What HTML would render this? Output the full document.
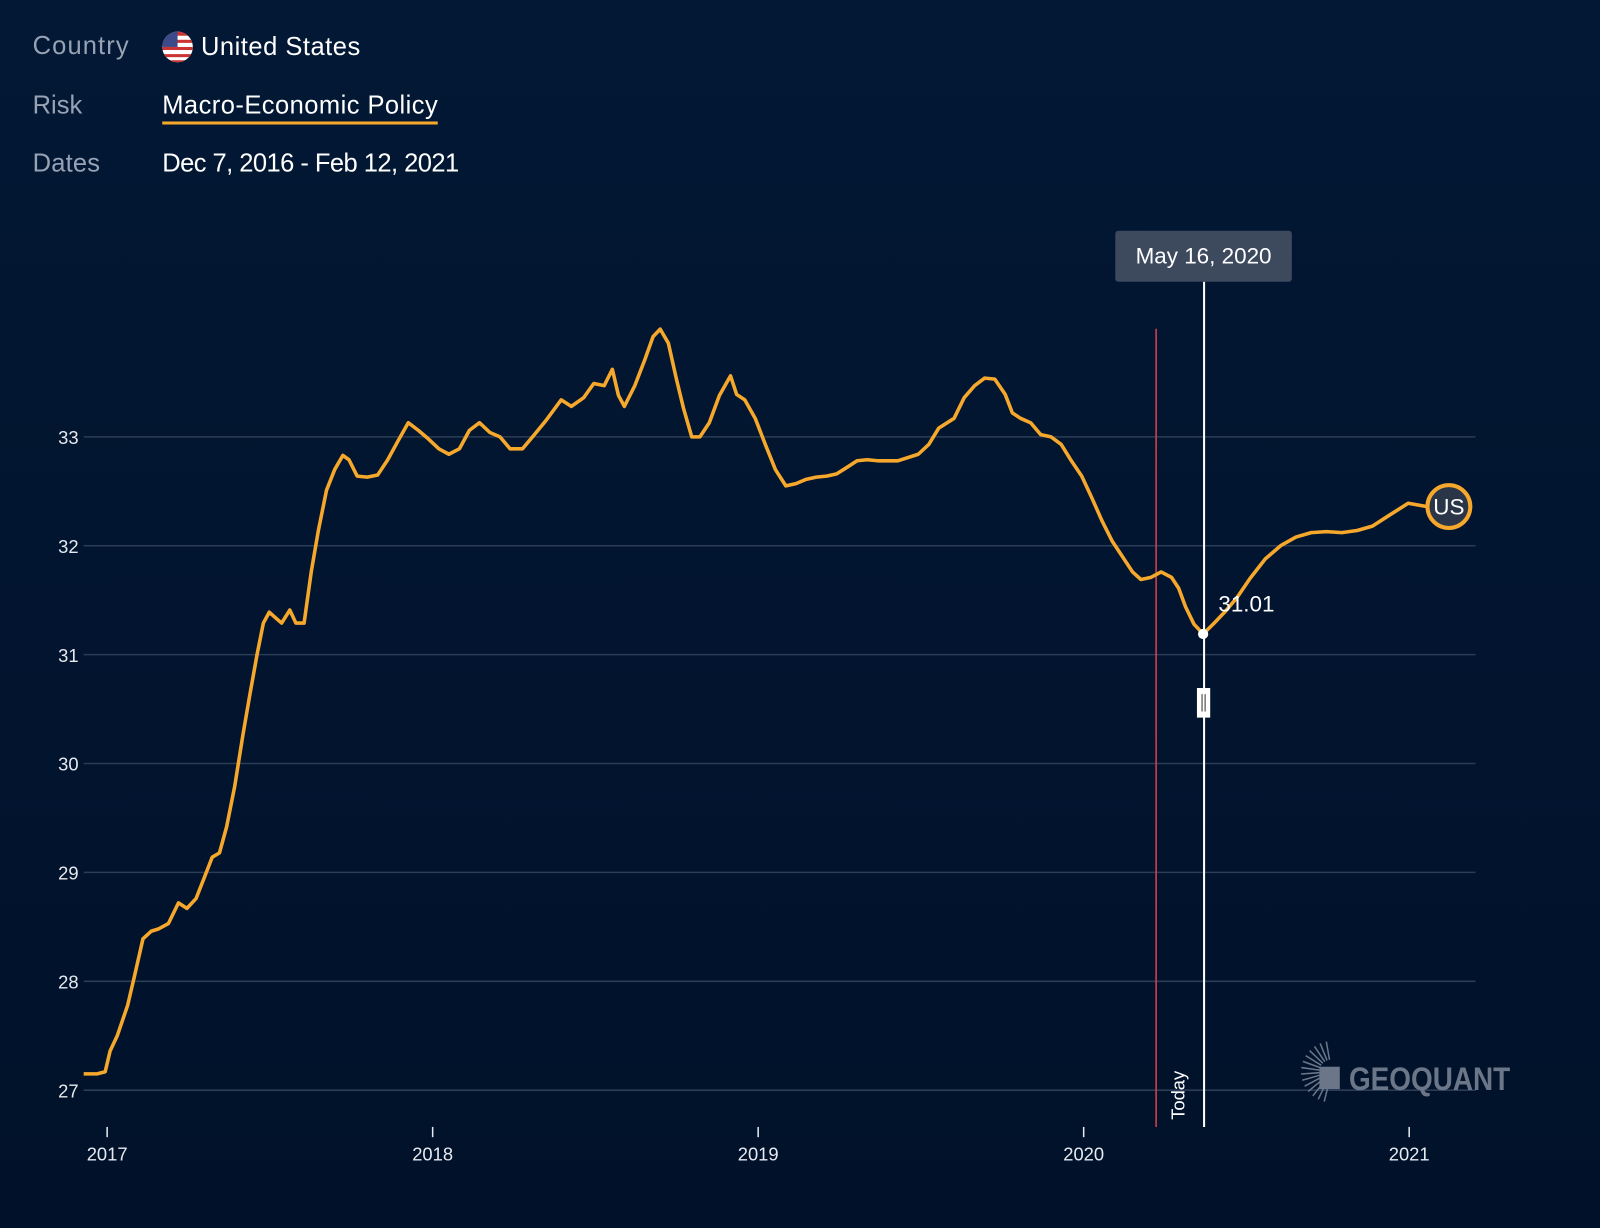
<!DOCTYPE html>
<html><head><meta charset="utf-8"><style>
html,body{margin:0;padding:0;background:#011631;}
svg{display:block;font-family:"Liberation Sans",sans-serif;}
</style></head><body>
<svg width="1600" height="1228" viewBox="0 0 1568 1203" preserveAspectRatio="none" xmlns="http://www.w3.org/2000/svg">
<defs><linearGradient id="bg" x1="0" y1="0" x2="0" y2="1"><stop offset="0" stop-color="#021834"/><stop offset="1" stop-color="#01112a"/></linearGradient></defs>
<rect width="1568" height="1203" fill="url(#bg)"/>
<g font-size="25">
<text x="32" y="53" fill="#97a2b4" textLength="94">Country</text>
<g>
<circle cx="174" cy="46" r="15" fill="#fff"/>
<clipPath id="fc"><circle cx="174" cy="46" r="15"/></clipPath>
<g clip-path="url(#fc)"><rect x="159" y="31" width="30" height="4" fill="#c33"/><rect x="159" y="39" width="30" height="3" fill="#c33"/><rect x="159" y="46" width="30" height="3" fill="#c33"/><rect x="159" y="53" width="30" height="3" fill="#c33"/><rect x="159" y="59" width="30" height="3" fill="#c33"/><rect x="159" y="31" width="15" height="15" fill="#3c4a8a"/></g>
</g>
<text x="197" y="54" fill="#fff" textLength="156">United States</text>
<text x="32" y="111" fill="#97a2b4">Risk</text>
<text x="159" y="111" fill="#fff" textLength="270">Macro-Economic Policy</text>
<rect x="159" y="119" width="270" height="3" fill="#f6a82c"/>
<text x="32" y="168" fill="#97a2b4" textLength="66">Dates</text>
<text x="159" y="168" fill="#fff" textLength="291">Dec 7, 2016 - Feb 12, 2021</text>
</g>
<g id="grid"></g><g id="xaxis"></g>
<g>
<g stroke="#6b7688" stroke-width="1.5" id="rays"></g>
<rect x="1293" y="1045" width="20" height="22" fill="#6b7688"/>
<text x="1322" y="1068" fill="#6b7688" font-size="32" font-weight="bold" textLength="158" lengthAdjust="spacingAndGlyphs">GEOQUANT</text>
</g>
<line x1="1133" y1="322" x2="1133" y2="1104" stroke="#d9434a" stroke-width="1.5"/>
<text transform="translate(1161,1097) rotate(-90)" fill="#fff" font-size="18">Today</text>
<path id="series" fill="none" stroke="#f6a82c" stroke-width="3.5" stroke-linejoin="round"/>
<line x1="1180" y1="276" x2="1180" y2="1104" stroke="#fff" stroke-width="2"/>
<rect x="1093" y="226" width="173" height="50" rx="3" fill="#3d4a5e"/>
<text x="1179.5" y="258" text-anchor="middle" fill="#fff" font-size="22">May 16, 2020</text>
<circle id="hoverpt" r="5" fill="#fff"/>
<text x="1194" y="599" fill="#fff" font-size="22">31.01</text>
<g><rect x="1173" y="674" width="13" height="29" fill="#fff"/><line x1="1178" y1="680" x2="1178" y2="697" stroke="#333"/><line x1="1181" y1="680" x2="1181" y2="697" stroke="#333"/></g>
<g id="endmark"></g>
</svg>
<script>
const yTicks=[27,28,29,30,31,32,33];
const xTicks=[2017,2018,2019,2020,2021];
const dates=[2016.928,2016.969,2016.994,2017.009,2017.031,2017.063,2017.085,2017.110,2017.135,2017.157,2017.188,2017.219,2017.245,2017.273,2017.298,2017.323,2017.345,2017.367,2017.392,2017.417,2017.439,2017.461,2017.480,2017.498,2017.517,2017.536,2017.561,2017.580,2017.605,2017.627,2017.649,2017.674,2017.699,2017.724,2017.743,2017.768,2017.799,2017.831,2017.862,2017.893,2017.925,2017.956,2017.987,2018.019,2018.050,2018.082,2018.113,2018.144,2018.176,2018.207,2018.238,2018.276,2018.307,2018.348,2018.395,2018.426,2018.464,2018.495,2018.527,2018.552,2018.571,2018.589,2018.621,2018.652,2018.677,2018.699,2018.724,2018.749,2018.771,2018.796,2018.821,2018.850,2018.881,2018.915,2018.934,2018.959,2018.991,2019.022,2019.053,2019.085,2019.116,2019.147,2019.179,2019.210,2019.241,2019.273,2019.304,2019.335,2019.367,2019.429,2019.492,2019.524,2019.555,2019.602,2019.633,2019.665,2019.696,2019.727,2019.759,2019.781,2019.806,2019.837,2019.868,2019.900,2019.931,2019.962,2019.994,2020.025,2020.056,2020.088,2020.119,2020.150,2020.176,2020.207,2020.238,2020.270,2020.292,2020.313,2020.339,2020.367,2020.401,2020.433,2020.470,2020.511,2020.558,2020.605,2020.652,2020.699,2020.746,2020.793,2020.840,2020.887,2020.934,2020.997,2021.053];
const values=[27.15,27.15,27.17,27.36,27.50,27.78,28.06,28.39,28.46,28.48,28.53,28.72,28.67,28.76,28.95,29.14,29.18,29.42,29.79,30.26,30.64,31.01,31.29,31.39,31.34,31.29,31.41,31.29,31.29,31.76,32.14,32.51,32.70,32.83,32.79,32.64,32.63,32.65,32.79,32.96,33.13,33.06,32.98,32.89,32.84,32.89,33.06,33.13,33.04,33.00,32.89,32.89,33.00,33.15,33.34,33.28,33.36,33.49,33.47,33.62,33.38,33.28,33.47,33.71,33.92,33.99,33.86,33.53,33.26,33.00,33.00,33.13,33.38,33.56,33.39,33.34,33.17,32.93,32.70,32.55,32.57,32.61,32.63,32.64,32.66,32.72,32.78,32.79,32.78,32.78,32.84,32.93,33.08,33.17,33.36,33.47,33.54,33.53,33.39,33.22,33.17,33.13,33.02,33.00,32.93,32.78,32.64,32.44,32.23,32.04,31.90,31.76,31.69,31.71,31.76,31.71,31.61,31.44,31.28,31.19,31.29,31.39,31.52,31.70,31.88,32.00,32.08,32.12,32.13,32.12,32.14,32.18,32.27,32.39,32.36];
const hoverDate=2020.367;
const NS="http://www.w3.org/2000/svg";
const X=d=>105+(d-2017)*319;
const Y=v=>1068-(v-27)*106.67;
const grid=document.getElementById('grid');
yTicks.forEach(t=>{
 const l=document.createElementNS(NS,'line');
 l.setAttribute('x1',82);l.setAttribute('x2',1446);l.setAttribute('y1',Y(t));l.setAttribute('y2',Y(t));
 l.setAttribute('stroke','#2b3c55');l.setAttribute('stroke-width','1.5');
 
 
 grid.appendChild(l);
 const tx=document.createElementNS(NS,'text');
 tx.setAttribute('x',77);tx.setAttribute('y',Y(t)+7);tx.setAttribute('text-anchor','end');
 tx.setAttribute('fill','#e6e9ef');tx.setAttribute('font-size','18');tx.textContent=t;
 
 
 grid.appendChild(tx);
});
const xa=document.getElementById('xaxis');
xTicks.forEach(t=>{
 const l=document.createElementNS(NS,'line');
 l.setAttribute('x1',X(t));l.setAttribute('x2',X(t));l.setAttribute('y1',1104);l.setAttribute('y2',1114);
 l.setAttribute('stroke','#e6e9ef');l.setAttribute('stroke-width','1.5');
 
 
 xa.appendChild(l);
 const tx=document.createElementNS(NS,'text');
 tx.setAttribute('x',X(t));tx.setAttribute('y',1137);tx.setAttribute('text-anchor','middle');
 tx.setAttribute('fill','#e6e9ef');tx.setAttribute('font-size','18');tx.textContent=t;
 
 
 xa.appendChild(tx);
});
let d='';
dates.forEach((dt,i)=>{d+=(i?'L':'M')+X(dt).toFixed(1)+','+Y(values[i]).toFixed(1);});
document.getElementById('series').setAttribute('d',d);
let hi=0;dates.forEach((dt,i)=>{if(Math.abs(dt-hoverDate)<Math.abs(dates[hi]-hoverDate))hi=i;});
const hp=document.getElementById('hoverpt');
hp.setAttribute('cx',X(hoverDate));hp.setAttribute('cy',Y(values[hi]));
const n=dates.length-1, ex=X(dates[n])+22, ey=Y(values[n]);
const em=document.getElementById('endmark');
em.innerHTML='<line x1="'+X(dates[n])+'" y1="'+ey+'" x2="'+(ex-21)+'" y2="'+ey+'" stroke="#f6a82c" stroke-width="3.5"/><circle cx="'+ex+'" cy="'+ey+'" r="21" fill="#2a3548" stroke="#f6a82c" stroke-width="4"/><text x="'+ex+'" y="'+(ey+8)+'" text-anchor="middle" fill="#fff" font-size="22">US</text>';
const rays=document.getElementById('rays');
for(let a=100;a<=260;a+=12){const r=a*Math.PI/180;const cx=1305,cy=1050;
 const l=document.createElementNS(NS,'line');
 l.setAttribute('x1',cx+12*Math.cos(r));l.setAttribute('y1',cy-12*Math.sin(r));
 l.setAttribute('x2',cx+30*Math.cos(r));l.setAttribute('y2',cy-30*Math.sin(r));
 rays.appendChild(l);}
</script>
</body></html>
